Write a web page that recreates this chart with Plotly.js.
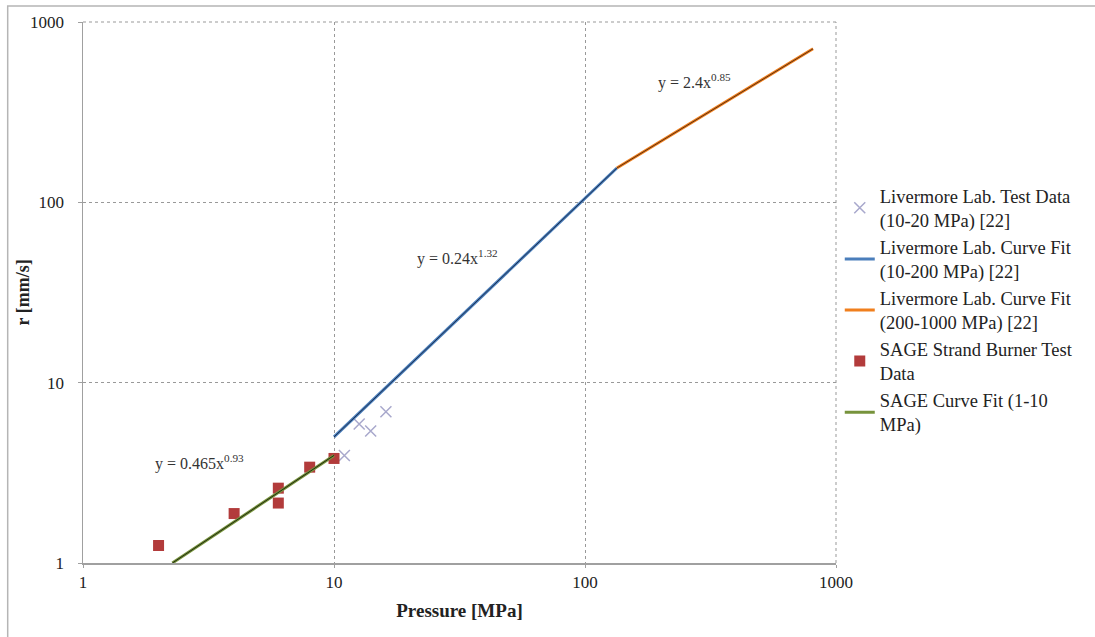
<!DOCTYPE html>
<html>
<head>
<meta charset="utf-8">
<script src="https://cdn.plot.ly/plotly-3.0.1.min.js"></script>
<style>
html,body{margin:0;padding:0;background:#fff;}
#chart{width:1095px;height:637px;}
</style>
</head>
<body>
<div id="chart"></div>
<script>
// Livermore Lab. test data (10-20 MPa)
const llPressure = [11, 12.6, 14, 16.1];
const llRate = [3.95, 5.9, 5.4, 6.9];

// Livermore Lab. curve fit (10-200 MPa): y = 0.24x^1.32
const llFit1Pressure = [10, 134];
const llFit1Rate = [5.0, 155];

// Livermore Lab. curve fit (200-1000 MPa): y = 2.4x^0.85
const llFit2Pressure = [134, 810];
const llFit2Rate = [155, 710];

// SAGE strand burner test data
const sagePressure = [2, 4, 6, 6, 8, 10];
const sageRate = [1.25, 1.88, 2.6, 2.15, 3.4, 3.8];

// SAGE curve fit (1-10 MPa): y = 0.465x^0.93
const sageFitPressure = [2.27, 10];
const sageFitRate = [1.0, 3.95];

const xTicks = [1, 10, 100, 1000];
const yTicks = [1, 10, 100, 1000];

const serif = "Liberation Serif, Times New Roman, serif";

const traces = [
  {x: llPressure, y: llRate, type: 'scatter', mode: 'markers',
   name: 'Livermore Lab. Test Data<br>(10-20 MPa) [22]',
   marker: {symbol: 'x-thin-open', size: 11, color: '#a8a8cc', line: {width: 1.5, color: '#a8a8cc'}}},
  {x: llFit1Pressure, y: llFit1Rate, type: 'scatter', mode: 'lines',
   name: 'Livermore Lab. Curve Fit<br>(10-200 MPa) [22]',
   line: {color: '#4a7ebb', width: 3}},
  {x: llFit2Pressure, y: llFit2Rate, type: 'scatter', mode: 'lines',
   name: 'Livermore Lab. Curve Fit<br>(200-1000 MPa) [22]',
   line: {color: '#f07f1d', width: 3}},
  {x: sagePressure, y: sageRate, type: 'scatter', mode: 'markers',
   name: 'SAGE Strand Burner Test<br>Data',
   marker: {symbol: 'square', size: 11, color: '#b23b3b'}},
  {x: sageFitPressure, y: sageFitRate, type: 'scatter', mode: 'lines',
   name: 'SAGE Curve Fit (1-10<br>MPa)',
   line: {color: '#77933c', width: 3}},
  // dark trendline cores drawn over the coloured fits
  {x: llFit1Pressure, y: llFit1Rate, type: 'scatter', mode: 'lines', showlegend: false,
   hoverinfo: 'skip', line: {color: '#1c2f4f', width: 1}},
  {x: llFit2Pressure, y: llFit2Rate, type: 'scatter', mode: 'lines', showlegend: false,
   hoverinfo: 'skip', line: {color: '#5a3012', width: 1}},
  {x: sageFitPressure, y: sageFitRate, type: 'scatter', mode: 'lines', showlegend: false,
   hoverinfo: 'skip', line: {color: '#1f2a0f', width: 1}}
];

const layout = {
  width: 1095, height: 637,
  margin: {l: 83, r: 259, t: 22, b: 74, pad: 0},
  paper_bgcolor: '#fff', plot_bgcolor: '#fff',
  font: {family: serif, size: 16, color: '#222'},
  showlegend: true,
  legend: {x: 1.005, y: 0.713, xanchor: 'left', yanchor: 'top',
           font: {family: serif, size: 18.5, color: '#222'},
           itemwidth: 30, bgcolor: 'rgba(0,0,0,0)'},
  xaxis: {type: 'log', range: [0, 3], tickvals: xTicks, ticktext: xTicks.map(String),
          showgrid: true, gridcolor: '#999', griddash: 'dot', gridwidth: 1,
          showline: true, linecolor: '#a0a0a0', linewidth: 1.5,
          ticks: 'outside', ticklen: 3, tickcolor: '#a0a0a0', ticklabelstandoff: 0,
          zeroline: false, tickfont: {family: serif, size: 17, color: '#222'},
          title: {text: '<b>Pressure [MPa]</b>', font: {family: serif, size: 19, color: '#222'}, standoff: 13}},
  yaxis: {type: 'log', range: [0, 3], tickvals: yTicks, ticktext: yTicks.map(String),
          showgrid: true, gridcolor: '#999', griddash: 'dot', gridwidth: 1,
          showline: true, linecolor: '#a0a0a0', linewidth: 1.5,
          ticks: 'outside', ticklen: 4, tickcolor: '#a0a0a0', ticklabelstandoff: 10,
          zeroline: false, tickfont: {family: serif, size: 17, color: '#222'}},
  annotations: [
    {x: -0.081, y: 0.5, xref: 'paper', yref: 'paper', showarrow: false, textangle: -90,
     xanchor: 'center', yanchor: 'middle',
     text: '<b>r [mm/s]</b>', font: {family: serif, size: 18, color: '#222'}},
    {x: 0.466, y: 0.556, xref: 'x', yref: 'y', showarrow: false,
     text: 'y = 0.465x<sup>0.93</sup>', font: {family: serif, size: 16, color: '#333'}},
    {x: 1.494, y: 1.694, xref: 'x', yref: 'y', showarrow: false,
     text: 'y = 0.24x<sup>1.32</sup>', font: {family: serif, size: 16, color: '#333'}},
    {x: 2.438, y: 2.672, xref: 'x', yref: 'y', showarrow: false,
     text: 'y = 2.4x<sup>0.85</sup>', font: {family: serif, size: 16, color: '#333'}}
  ],
  shapes: [
    {type: 'line', xref: 'paper', yref: 'paper', x0: 0, x1: 1, y0: 1, y1: 1,
     line: {color: '#999', width: 1, dash: 'dot'}},
    {type: 'line', xref: 'paper', yref: 'paper', x0: 1, x1: 1, y0: 0, y1: 1,
     line: {color: '#999', width: 1, dash: 'dot'}},
    {type: 'rect', xref: 'paper', yref: 'paper', x0: -0.1, x1: 1.4, y0: -0.2, y1: 1.0296,
     line: {color: '#b5b5b5', width: 1.5}, layer: 'below'}
  ]
};

Plotly.newPlot('chart', traces, layout, {displayModeBar: false, staticPlot: true});
</script>
</body>
</html>
